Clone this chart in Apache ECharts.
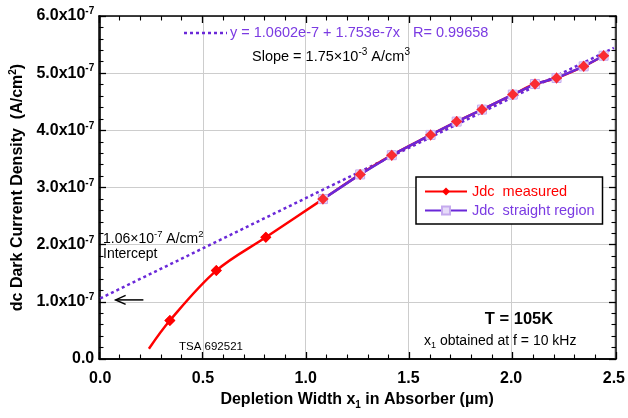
<!DOCTYPE html>
<html><head><meta charset="utf-8">
<script src="https://cdn.jsdelivr.net/npm/echarts@6/dist/echarts.min.js"></script>
<style>html,body{margin:0;padding:0;background:#fff}#c{width:628px;height:418px}</style>
</head><body><div id="c"></div>
<script>
// ---- data (J in A/cm^2, x in µm) ----
const xMeasured = [0.237, 0.339, 0.565, 0.806, 1.084, 1.265, 1.419, 1.608, 1.735, 1.858, 2.008, 2.116, 2.221, 2.353, 2.450];
const jMeasured = [0.18e-7, 0.674e-7, 1.546e-7, 2.129e-7, 2.797e-7, 3.229e-7, 3.565e-7, 3.920e-7, 4.153e-7, 4.363e-7, 4.625e-7, 4.810e-7, 4.915e-7, 5.119e-7, 5.305e-7];
const xStraight = [1.084, 1.265, 1.419, 1.608, 1.735, 1.858, 2.008, 2.116, 2.221, 2.353, 2.450];
const jStraight = [2.797e-7, 3.229e-7, 3.565e-7, 3.920e-7, 4.153e-7, 4.363e-7, 4.625e-7, 4.810e-7, 4.915e-7, 5.119e-7, 5.305e-7];
const xFit = [0, 2.5];
const jFit = [1.06e-7, 5.443e-7];
const xTickLabels = ['0.0', '0.5', '1.0', '1.5', '2.0', '2.5'];
const yTickMantissa = ['0.0', '1.0', '2.0', '3.0', '4.0', '5.0', '6.0'];
const seriesNames = ['Jdc  measured', 'Jdc  straight region'];

const FONT = "'Liberation Sans', Arial, sans-serif";
const RED = '#ff0000';
const PURPLE = '#6a28d8';
const PURPLE_TXT = '#7b3be2';

const L = 99, R = 12, T = 16, B = 59, W = 628, H = 418;

const chart = echarts.init(document.getElementById('c'), null, {renderer: 'canvas'});

const frameLine = {show: true, onZero: false, lineStyle: {color: '#000', width: 1.5}};
const tickOut = {show: true, inside: false, length: 7, lineStyle: {color: '#000', width: 1.3}};
const minorOut = {show: true, splitNumber: 5, length: 4.5, lineStyle: {color: '#000', width: 1.1}};

// thin helper grids on each edge: their axes' outward ticks point into the plot
const grids = [
  {left: L, right: R, top: T, bottom: B, containLabel: false},          // 0 main
  {left: L, right: R, top: H - B, height: 1, containLabel: false},      // 1 bottom edge
  {left: L, right: R, top: T - 1, height: 1, containLabel: false},      // 2 top edge
  {left: L - 1, width: 1, top: T, bottom: B, containLabel: false},      // 3 left edge
  {left: W - R, width: 1, top: T, bottom: B, containLabel: false}       // 4 right edge
];
function xTickAxis(gi, position) {
  return {gridIndex: gi, type: 'value', min: 0, max: 2.5, interval: 0.5, position: position,
    axisLine: frameLine, axisTick: tickOut, minorTick: minorOut,
    axisLabel: {show: false}, splitLine: {show: false}, minorSplitLine: {show: false}};
}
function yTickAxis(gi, position) {
  return {gridIndex: gi, type: 'value', min: 0, max: 6e-7, interval: 1e-7, position: position,
    axisLine: frameLine, axisTick: tickOut, minorTick: minorOut,
    axisLabel: {show: false}, splitLine: {show: false}, minorSplitLine: {show: false}};
}
function hidden(gi) { return {gridIndex: gi, type: 'value', show: false, min: 0, max: 1}; }

const measuredData = xMeasured.map((x, i) => i === 0 ? {value: [x, jMeasured[i]], symbol: 'none'} : [x, jMeasured[i]]);

const option = {
  animation: false,
  textStyle: {fontFamily: FONT},
  grid: grids,
  xAxis: [
    {
      gridIndex: 0, type: 'value', min: 0, max: 2.5, interval: 0.5, position: 'bottom',
      axisLine: frameLine, axisTick: {show: false}, minorTick: {show: false},
      splitLine: {show: true, lineStyle: {color: '#cdcdcd', width: 1}},
      axisLabel: {fontFamily: FONT, fontSize: 16, fontWeight: 'bold', color: '#000', margin: 12,
        formatter: v => xTickLabels[Math.round(v / 0.5)]},
      name: 'Depletion Width x{sub|1} in Absorber (µm)',
      nameLocation: 'middle', nameGap: 31,
      nameTextStyle: {fontFamily: FONT, fontSize: 16, fontWeight: 'bold', color: '#000',
        rich: {sub: {fontFamily: FONT, fontSize: 10, fontWeight: 'bold', color: '#000', padding: [10, 0, 0, 0]}}}
    },
    xTickAxis(1, 'top'),
    xTickAxis(2, 'bottom'),
    hidden(3),
    hidden(4)
  ],
  yAxis: [
    {
      gridIndex: 0, type: 'value', min: 0, max: 6e-7, interval: 1e-7, position: 'left',
      axisLine: frameLine, axisTick: {show: false}, minorTick: {show: false},
      splitLine: {show: true, lineStyle: {color: '#cdcdcd', width: 1}},
      axisLabel: {fontFamily: FONT, fontSize: 16, fontWeight: 'bold', color: '#000', margin: 6,
        formatter: v => {
          const i = Math.round(v / 1e-7);
          if (i === 0) return '{m|' + yTickMantissa[0] + '}';
          return '{m|' + yTickMantissa[i] + 'x10}{e|-7}';
        },
        rich: {
          m: {fontFamily: FONT, fontSize: 16, fontWeight: 'bold', color: '#000'},
          e: {fontFamily: FONT, fontSize: 10, fontWeight: 'bold', color: '#000', padding: [0, 0, 9, 0]}
        }},
      name: 'dc Dark Current Density  (A/cm{sup|2})',
      nameLocation: 'middle', nameGap: 66, nameRotate: 90,
      nameTextStyle: {fontFamily: FONT, fontSize: 16, fontWeight: 'bold', color: '#000',
        rich: {sup: {fontFamily: FONT, fontSize: 10, fontWeight: 'bold', color: '#000', padding: [0, 0, 9, 0]}}}
    },
    hidden(1),
    hidden(2),
    yTickAxis(3, 'right'),
    yTickAxis(4, 'left')
  ],
  legend: {
    show: true, orient: 'vertical', left: 416, top: 177,
    padding: [7, 8, 6, 8], itemGap: 4, itemWidth: 42, itemHeight: 10,
    borderColor: '#000', borderWidth: 1.5, backgroundColor: '#fff',
    textStyle: {fontFamily: FONT, fontSize: 14.5},
    data: [
      {name: seriesNames[0], textStyle: {color: RED}},
      {name: seriesNames[1], textStyle: {color: PURPLE_TXT}}
    ]
  },
  series: [
    {
      name: 'fit', type: 'line', z: 1, data: xFit.map((x, i) => [x, jFit[i]]),
      showSymbol: false, symbol: 'none',
      lineStyle: {color: PURPLE, width: 2.5, type: [3, 3]}, silent: true
    },
    {
      name: seriesNames[0], type: 'line', z: 2, smooth: 0.35,
      data: measuredData, symbol: 'diamond', symbolSize: 11, showSymbol: true,
      lineStyle: {color: RED, width: 2.5}, itemStyle: {color: RED}
    },
    {
      name: seriesNames[1], type: 'line', z: 3,
      data: xStraight.map((x, i) => [x, jStraight[i]]),
      symbol: 'rect', symbolSize: 9, showSymbol: true,
      lineStyle: {color: PURPLE, width: 2.5},
      itemStyle: {color: '#e6dbf9', borderColor: '#c5aaee', borderWidth: 1}
    },
    {
      name: 'measuredPoints', type: 'scatter', z: 4,
      data: xMeasured.slice(1).map((x, i) => [x, jMeasured[i + 1]]),
      symbol: 'diamond', symbolSize: 11, itemStyle: {color: RED}
    }
  ]
};
chart.setOption(option);

// annotations
const p0 = chart.convertToPixel({xAxisIndex: 0, yAxisIndex: 0}, [0.075, 1.06e-7]);
const p1 = chart.convertToPixel({xAxisIndex: 0, yAxisIndex: 0}, [0.21, 1.06e-7]);
const ay = p0[1] + 1.5;
chart.setOption({
  graphic: [
    {type: 'line', shape: {x1: 184, y1: 33, x2: 227, y2: 33}, style: {stroke: PURPLE, lineWidth: 2.5, lineDash: [3, 3]}},
    {type: 'text', x: 230, y: 33, style: {text: 'y = 1.0602e-7 + 1.753e-7x', font: '14.5px ' + FONT, fill: PURPLE_TXT, verticalAlign: 'middle'}},
    {type: 'text', x: 413, y: 33, style: {text: 'R= 0.99658', font: '14.5px ' + FONT, fill: PURPLE_TXT, verticalAlign: 'middle'}},
    {type: 'text', x: 252, y: 57, style: {text: 'Slope = 1.75×10{s|-3} A/cm{s|3}', font: '14.5px ' + FONT, fill: '#000', verticalAlign: 'middle',
      rich: {s: {fontSize: 10, fontFamily: FONT, fill: '#000', padding: [0, 0, 9, 0]}}}},
    {type: 'text', x: 103, y: 239, style: {text: '1.06×10{s|-7} A/cm{s|2}', font: '14px ' + FONT, fill: '#000', verticalAlign: 'middle',
      rich: {s: {fontSize: 9.5, fontFamily: FONT, fill: '#000', padding: [0, 0, 9, 0]}}}},
    {type: 'text', x: 103, y: 254, style: {text: 'Intercept', font: '14px ' + FONT, fill: '#000', verticalAlign: 'middle'}},
    {type: 'text', x: 179, y: 347, style: {text: 'TSA 692521', font: '11.5px ' + FONT, fill: '#000', verticalAlign: 'middle'}},
    {type: 'text', x: 519, y: 319, style: {text: 'T = 105K', font: 'bold 16.5px ' + FONT, fill: '#000', verticalAlign: 'middle', align: 'center'}},
    {type: 'text', x: 424, y: 341, style: {text: 'x{s|1} obtained at f = 10 kHz', font: '14px ' + FONT, fill: '#000', verticalAlign: 'middle',
      rich: {s: {fontSize: 9, fontFamily: FONT, fill: '#000', padding: [9, 0, 0, 0]}}}},
    {type: 'polyline', shape: {points: [[p0[0], ay], [p1[0], ay]]}, style: {stroke: '#000', lineWidth: 1.5}},
    {type: 'polyline', shape: {points: [[p0[0] + 10, ay - 4.5], [p0[0], ay], [p0[0] + 10, ay + 4.5]]}, style: {stroke: '#000', lineWidth: 1.5, fill: null}}
  ]
});
</script>
</body></html>
